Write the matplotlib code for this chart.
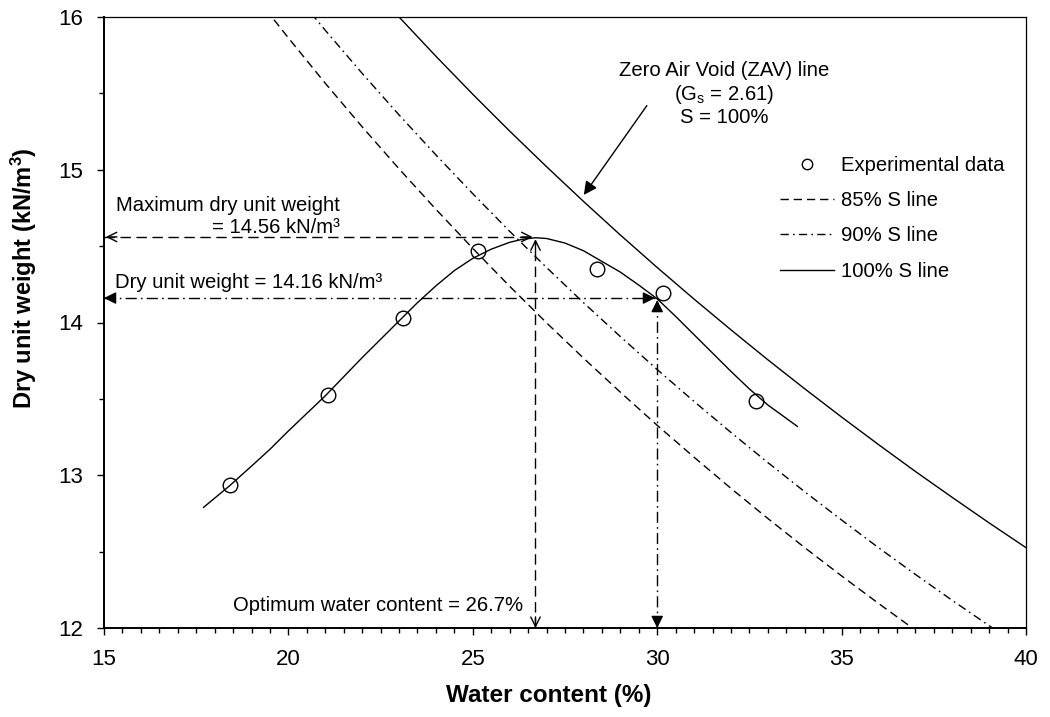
import matplotlib
matplotlib.use("Agg")
import matplotlib.pyplot as plt
from matplotlib.ticker import MultipleLocator
from matplotlib.lines import Line2D

plt.rcParams['font.family'] = ['Liberation Sans', 'DejaVu Sans']
plt.rcParams['mathtext.fontset'] = 'custom'
plt.rcParams['mathtext.rm'] = 'Liberation Sans'
plt.rcParams['mathtext.it'] = 'Liberation Sans:italic'
plt.rcParams['mathtext.bf'] = 'Liberation Sans:bold'

# ---------------- data ----------------
water_exp = [18.42, 21.07, 23.12, 25.13, 28.38, 30.17, 32.68]
dry_exp = [12.935, 13.526, 14.03, 14.47, 14.35, 14.19, 13.486]

fit_w = [17.7, 18.4, 19.0, 19.5, 20.0, 21.0, 22.0, 23.0, 23.5, 24.0, 24.5, 25.0, 25.5,
         26.0, 26.35, 26.7, 27.0, 27.5, 28.0, 28.5, 29.0, 29.5, 30.0, 30.5, 31.0, 31.5,
         32.0, 32.5, 33.0, 33.8]
fit_d = [12.79, 12.93, 13.06, 13.17, 13.29, 13.52, 13.77, 14.01, 14.13, 14.24, 14.34, 14.42, 14.48,
         14.525, 14.545, 14.555, 14.55, 14.52, 14.47, 14.40, 14.33, 14.245, 14.155, 14.04, 13.92, 13.80,
         13.68, 13.565, 13.46, 13.32]

s85_w = [19.0, 19.55, 20, 21, 22, 23, 24, 25, 26, 27, 28, 29, 30, 31, 32, 33, 34, 35, 36, 37, 37.5]
s85_d = [16.170, 16.00, 15.863, 15.566, 15.281, 15.006, 14.741, 14.485, 14.237, 13.998, 13.767,
         13.544, 13.327, 13.118, 12.914, 12.717, 12.526, 12.341, 12.161, 11.986, 11.901]

s90_w = [20.0, 20.7, 21, 22, 23, 24, 25, 26, 27, 28, 29, 30, 31, 32, 33, 34, 35, 36, 37, 38, 39, 39.5]
s90_d = [16.205, 16.00, 15.913, 15.631, 15.359, 15.097, 14.843, 14.597, 14.360, 14.130, 13.908,
         13.692, 13.483, 13.280, 13.083, 12.892, 12.707, 12.526, 12.351, 12.181, 12.015, 11.934]

s100_w = [22.5, 23, 24, 25, 26, 27, 28, 29, 30, 31, 32, 33, 34, 35, 36, 37, 38, 39, 40]
s100_d = [16.131, 16.000, 15.743, 15.494, 15.253, 15.020, 14.793, 14.573, 14.360, 14.153, 13.952,
          13.756, 13.566, 13.381, 13.201, 13.025, 12.855, 12.688, 12.526]

opt_w = 26.7
max_dry = 14.56
w_30 = 30.0
dry_30 = 14.16

x_ticks = [15, 20, 25, 30, 35, 40]
y_ticks = [12, 13, 14, 15, 16]

# ---------------- figure ----------------
fig = plt.figure(figsize=(10.5, 7.17), dpi=100)
ax = fig.add_axes([104 / 1050, 1 - 628 / 717, 922 / 1050, 611 / 717])

lw = 1.0
ax.plot(s85_w, s85_d, color='black', lw=lw, dashes=(6, 3.5), label='85% S line')
ax.plot(s90_w, s90_d, color='black', lw=lw, dashes=(6, 3, 1.2, 3), label='90% S line')
ax.plot(s100_w, s100_d, color='black', lw=lw, ls='-', label='100% S line')
ax.plot(fit_w, fit_d, color='black', lw=lw, ls='-')
ax.plot(water_exp, dry_exp, ls='none', marker='o', ms=10.5, mfc='none', mec='black',
        mew=1.0, label='Experimental data', zorder=5)

# guide lines
ax.plot([15, opt_w - 0.1], [max_dry, max_dry], color='black', lw=lw, dashes=(7.5, 4))
ax.plot([opt_w, opt_w], [12, max_dry - 0.02], color='black', lw=lw, dashes=(7.5, 4))
ax.plot([15, w_30 - 0.06], [dry_30, dry_30], color='black', lw=lw, dashes=(8, 3, 1.2, 3))
ax.plot([w_30, w_30], [12, dry_30 - 0.013], color='black', lw=lw, dashes=(8, 3, 1.2, 3))


def head(xy, d, style, ms):
    dx, dy = d
    ax.annotate('', xy=xy, xytext=(dx * 8, dy * 8), textcoords='offset points',
                arrowprops=dict(arrowstyle=style, lw=lw, color='black',
                                mutation_scale=ms, shrinkA=0, shrinkB=0),
                annotation_clip=False)


# open heads for maximum dry unit weight
head((15.05, max_dry), (1, 0), '->', 17)
head((opt_w - 0.08, max_dry), (-1, 0), '->', 17)
head((opt_w, max_dry - 0.015), (0, -1), '->', 17)
head((opt_w, 12.0), (0, 1), '->', 17)
# filled heads for 30 %
head((15.0, dry_30), (1, 0), '-|>', 18)
head((w_30 - 0.06, dry_30), (-1, 0), '-|>', 18)
head((w_30, dry_30 - 0.013), (0, -1), '-|>', 18)
head((w_30, 12.0), (0, 1), '-|>', 18)

# ZAV annotation
ax.annotate('', xy=(28.01, 14.835), xytext=(29.72, 15.42),
            arrowprops=dict(arrowstyle='-|>', lw=lw, color='black', mutation_scale=20,
                            shrinkA=0, shrinkB=0))
fs = 14.6
ax.text(31.81, 15.495, 'Zero Air Void (ZAV) line\n(G$_\\mathregular{s}$ = 2.61)\nS = 100%',
        ha='center', va='center', fontsize=fs, linespacing=1.17)
ax.text(21.4, 14.695, 'Maximum dry unit weight\n= 14.56 kN/m³', ha='right', va='center',
        multialignment='right', fontsize=fs, linespacing=1.2)
ax.text(15.3, 14.265, 'Dry unit weight = 14.16 kN/m³', ha='left', va='center', fontsize=fs)
ax.text(26.36, 12.15, 'Optimum water content = 26.7%', ha='right', va='center', fontsize=fs)

# axes
ax.set_xlim(15, 40)
ax.set_ylim(12, 16)
ax.set_xticks(x_ticks)
ax.set_yticks(y_ticks)
ax.xaxis.set_minor_locator(MultipleLocator(0.5))
ax.yaxis.set_minor_locator(MultipleLocator(0.5))
ax.tick_params(which='major', direction='out', length=5, width=1.0, labelsize=16, pad=10)
ax.tick_params(which='minor', direction='out', length=3.5, width=1.0)
for s in ['left', 'bottom']:
    ax.spines[s].set_linewidth(1.4)
for s in ['top', 'right']:
    ax.spines[s].set_linewidth(0.9)

ax.set_xlabel('Water content (%)', fontsize=17.5, fontweight='bold', labelpad=10)
ax.set_ylabel('Dry unit weight (kN/m$^\\mathbf{3}$)', fontsize=17, fontweight='bold', labelpad=14)
ax.xaxis.label.set_x(0.4826)
ax.yaxis.label.set_y(0.573)

# legend
h_exp = Line2D([], [], ls='none', marker='o', ms=7.5, mfc='none', mec='black', mew=1.0)
h85 = Line2D([], [], color='black', lw=lw, dashes=(6, 3.5))
h90 = Line2D([], [], color='black', lw=lw, dashes=(6, 3, 1.2, 3))
h100 = Line2D([], [], color='black', lw=lw)
fig.legend([h_exp, h85, h90, h100],
           ['Experimental data', '85% S line', '90% S line', '100% S line'],
           loc='upper left', bbox_to_anchor=(780 / 1050, 1 - 156 / 717),
           frameon=False, fontsize=fs, handlelength=2.65, handletextpad=0.35,
           labelspacing=0.8, borderpad=0, borderaxespad=0)

fig.savefig('out.png', dpi=100)
